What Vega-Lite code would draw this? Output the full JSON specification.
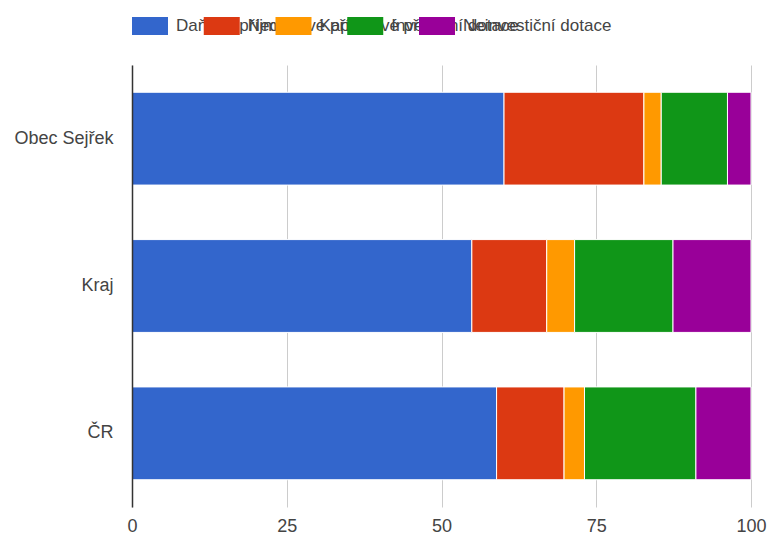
{
  "$schema": "https://vega.github.io/schema/vega-lite/v6.json",
  "padding": {"left": 13, "top": 17, "right": 0, "bottom": 0},
  "background": "white",
  "config": {"view": {"stroke": null}, "font": "Liberation Sans"},
  "datasets": {
    "kategorie": [
      {"kategorie": "Daňové příjmy"},
      {"kategorie": "Nedaňové příjmy"},
      {"kategorie": "Kapitálové příjmy"},
      {"kategorie": "Investiční dotace"},
      {"kategorie": "Neinvestiční dotace"}
    ],
    "rozpocet": [
      {"oblast": "Obec Sejřek", "kategorie": "Daňové příjmy", "poradi": 1, "podil": 60.1},
      {"oblast": "Obec Sejřek", "kategorie": "Nedaňové příjmy", "poradi": 2, "podil": 22.6},
      {"oblast": "Obec Sejřek", "kategorie": "Kapitálové příjmy", "poradi": 3, "podil": 2.8},
      {"oblast": "Obec Sejřek", "kategorie": "Investiční dotace", "poradi": 4, "podil": 10.7},
      {"oblast": "Obec Sejřek", "kategorie": "Neinvestiční dotace", "poradi": 5, "podil": 3.8},
      {"oblast": "Kraj", "kategorie": "Daňové příjmy", "poradi": 1, "podil": 54.9},
      {"oblast": "Kraj", "kategorie": "Nedaňové příjmy", "poradi": 2, "podil": 12.1},
      {"oblast": "Kraj", "kategorie": "Kapitálové příjmy", "poradi": 3, "podil": 4.5},
      {"oblast": "Kraj", "kategorie": "Investiční dotace", "poradi": 4, "podil": 15.9},
      {"oblast": "Kraj", "kategorie": "Neinvestiční dotace", "poradi": 5, "podil": 12.6},
      {"oblast": "ČR", "kategorie": "Daňové příjmy", "poradi": 1, "podil": 58.9},
      {"oblast": "ČR", "kategorie": "Nedaňové příjmy", "poradi": 2, "podil": 10.9},
      {"oblast": "ČR", "kategorie": "Kapitálové příjmy", "poradi": 3, "podil": 3.3},
      {"oblast": "ČR", "kategorie": "Investiční dotace", "poradi": 4, "podil": 18.0},
      {"oblast": "ČR", "kategorie": "Neinvestiční dotace", "poradi": 5, "podil": 8.9}
    ]
  },
  "bounds": "flush",
  "spacing": 30,
  "vconcat": [
    {
      "width": 287,
      "height": 18,
      "data": {"name": "kategorie"},
      "layer": [
        {
          "mark": {"type": "text", "align": "left", "baseline": "middle", "dx": 44, "fontSize": 17, "color": "#444"},
          "encoding": {
            "x": {
              "field": "kategorie",
              "type": "nominal",
              "scale": {
                "type": "point",
                "padding": 0,
                "domain": ["Daňové příjmy", "Nedaňové příjmy", "Kapitálové příjmy", "Investiční dotace", "Neinvestiční dotace"]
              },
              "axis": null
            },
            "text": {"field": "kategorie"}
          }
        },
        {
          "mark": {"type": "point", "shape": "M0,-0.5H2V0.5H0Z", "size": 1296, "filled": true, "opacity": 1, "strokeWidth": 0},
          "encoding": {
            "x": {"field": "kategorie", "type": "nominal", "axis": null},
            "color": {
              "field": "kategorie",
              "type": "nominal",
              "scale": {
                "domain": ["Daňové příjmy", "Nedaňové příjmy", "Kapitálové příjmy", "Investiční dotace", "Neinvestiční dotace"],
                "range": ["#3366cc", "#dc3912", "#ff9900", "#109618", "#990099"]
              },
              "legend": null
            }
          }
        }
      ]
    },
    {
      "width": 619,
      "height": 442,
      "data": {"name": "rozpocet"},
      "mark": {"type": "bar", "stroke": "white", "strokeWidth": 1},
      "encoding": {
        "y": {
          "field": "oblast",
          "type": "nominal",
          "sort": ["Obec Sejřek", "Kraj", "ČR"],
          "title": null,
          "scale": {"paddingInner": 0.37, "paddingOuter": 0.185},
          "axis": {
            "ticks": false,
            "domainColor": "#333",
            "domainWidth": 1.5,
            "labelPadding": 19,
            "labelFontSize": 18,
            "labelColor": "#444",
            "zindex": 1
          }
        },
        "x": {
          "field": "podil",
          "type": "quantitative",
          "stack": "zero",
          "title": null,
          "scale": {"domain": [0, 100], "nice": false},
          "axis": {
            "values": [0, 25, 50, 75, 100],
            "domain": false,
            "ticks": false,
            "labelFlush": false,
            "gridColor": "#ccc",
            "labelPadding": 10,
            "labelFontSize": 18,
            "labelColor": "#444",
            "zindex": 0
          }
        },
        "color": {
          "field": "kategorie",
          "type": "nominal",
          "scale": {
            "domain": ["Daňové příjmy", "Nedaňové příjmy", "Kapitálové příjmy", "Investiční dotace", "Neinvestiční dotace"],
            "range": ["#3366cc", "#dc3912", "#ff9900", "#109618", "#990099"]
          },
          "legend": null
        },
        "order": {"field": "poradi", "type": "quantitative"}
      }
    }
  ]
}
